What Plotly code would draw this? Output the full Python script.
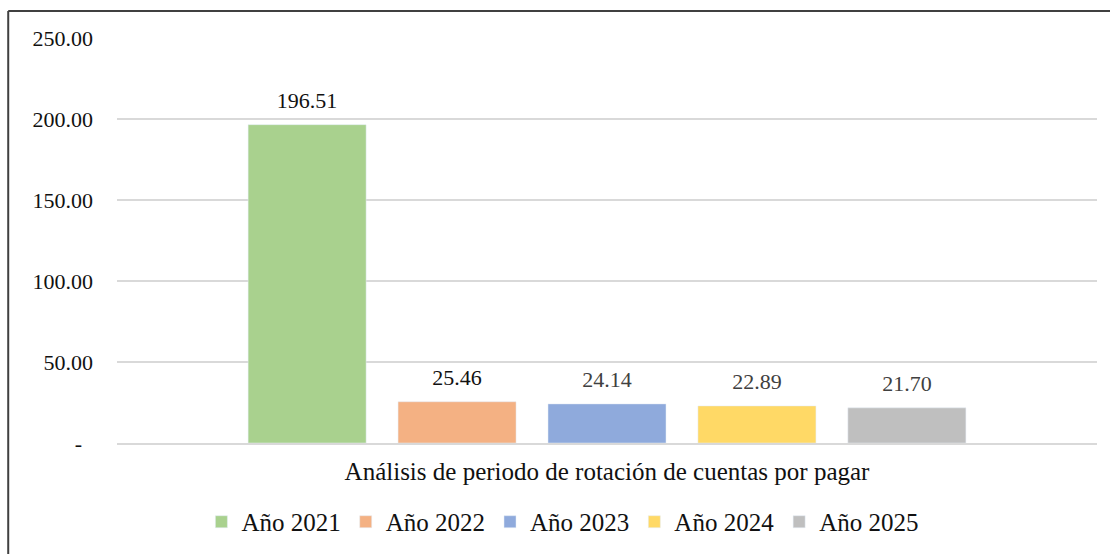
import plotly.graph_objects as go

category = ["Análisis de periodo de rotación de cuentas por pagar"]
series_names = ["Año 2021", "Año 2022", "Año 2023", "Año 2024", "Año 2025"]
values = [196.51, 25.46, 24.14, 22.89, 21.70]
colors = ["#A9D18E", "#F4B183", "#8FAADC", "#FFD966", "#BFBFBF"]
label_colors = ["#111111", "#111111", "#404040", "#404040", "#404040"]
tick_vals = [0, 50, 100, 150, 200, 250]
tick_text = ["-\u00a0\u00a0", "50.00", "100.00", "150.00", "200.00", "250.00"]

FONT = "Liberation Serif"

fig = go.Figure()
for name, v, c in zip(series_names, values, colors):
    fig.add_trace(go.Bar(
        x=category, y=[v], name=name, marker_color=c,
        offsetgroup=name, hoverinfo="skip",
    ))
for name, v, lc in zip(series_names, values, label_colors):
    fig.add_trace(go.Scatter(
        x=category, y=[v], mode="markers+text", offsetgroup=name,
        text=[f"{v:.2f}"], textposition="top center",
        marker=dict(size=16, opacity=0), textfont=dict(size=22, color=lc, family=FONT),
        showlegend=False, hoverinfo="skip", cliponaxis=False,
    ))

fig.update_layout(
    width=1110, height=554,
    margin=dict(l=117, r=13, t=38, b=111, autoexpand=False),
    paper_bgcolor="white", plot_bgcolor="white",
    barmode="group", scattermode="group",
    bargap=0.235, bargroupgap=0.213, scattergap=0.235,
    font=dict(family=FONT, size=22, color="#111111"),
    legend=dict(orientation="h", x=0.455, xanchor="center", y=-0.195, yanchor="middle",
                font=dict(family=FONT, size=25, color="#111111"), itemwidth=30, tracegroupgap=0,
                bgcolor="rgba(0,0,0,0)"),
    showlegend=True,
    shapes=[
        dict(type="line", xref="paper", yref="paper", x0=-0.111, x1=1.03, y0=1.0667, y1=1.0667,
             line=dict(color="#404040", width=2)),
        dict(type="line", xref="paper", yref="paper", x0=-0.111, x1=-0.111, y0=1.0667, y1=-0.3,
             line=dict(color="#404040", width=2)),
    ],
)
fig.update_yaxes(range=[0, 250], tickvals=tick_vals, ticktext=tick_text,
                 showgrid=True, gridcolor="#D9D9D9", gridwidth=1.5,
                 zeroline=False, showline=False, ticks="", ticklabelstandoff=23,
                 tickfont=dict(family=FONT, size=22, color="#111111"), fixedrange=True)
fig.update_xaxes(showgrid=False, showline=True, linecolor="#D9D9D9", linewidth=1.5,
                 ticks="", ticklabelstandoff=5, tickfont=dict(family=FONT, size=25, color="#111111"),
                 fixedrange=True)

fig.write_html("out.html", config={"displayModeBar": False},
               post_script="document.body.style.margin='0';")
